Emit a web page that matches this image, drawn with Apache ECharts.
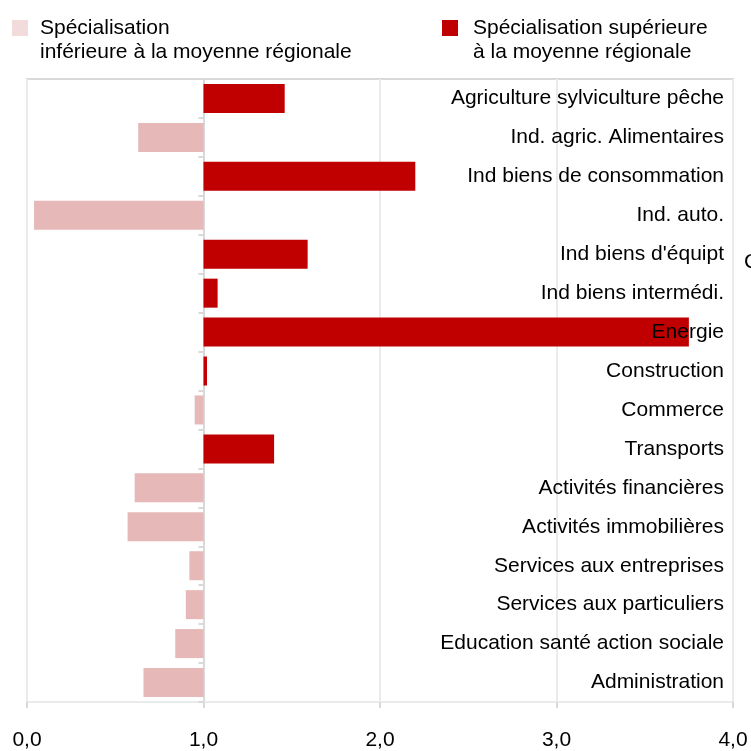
<!DOCTYPE html>
<html>
<head>
<meta charset="utf-8">
<script src="https://cdn.jsdelivr.net/npm/echarts@6/dist/echarts.min.js"></script>
<style>
  html, body { margin: 0; padding: 0; background: #fff; }
  #chart { width: 751px; height: 751px; }
</style>
</head>
<body>
<div id="chart"></div>
<script>
// secteurs, de haut en bas
const categories = [
  'Agriculture sylviculture pêche',
  'Ind. agric. Alimentaires',
  'Ind biens de consommation',
  'Ind. auto.',
  "Ind biens d'équipt",
  'Ind biens intermédi.',
  'Energie',
  'Construction',
  'Commerce',
  'Transports',
  'Activités financières',
  'Activités immobilières',
  'Services aux entreprises',
  'Services aux particuliers',
  'Education santé action sociale',
  'Administration'
]
// indice de spécialisation (1 = moyenne régionale)
const values = [1.46, 0.63, 2.20, 0.04, 1.59, 1.08, 3.75, 1.02, 0.95, 1.40, 0.61, 0.57, 0.92, 0.90, 0.84, 0.66]
const xTicks = ['0,0', '1,0', '2,0', '3,0', '4,0']
const seriesNames = [
  'Spécialisation inférieure à la moyenne régionale',
  'Spécialisation supérieure à la moyenne régionale'
]
// ligne vide en tête : la première ligne se cale sur le carré
const legendLines = {
  [seriesNames[0]]: ' \nSpécialisation\ninférieure à la moyenne régionale',
  [seriesNames[1]]: ' \nSpécialisation supérieure\nà la moyenne régionale'
}

const baseline = 1
const baseData = values.map(v => Math.min(v, baseline))
const lowData = values.map(v => (v < baseline ? +(baseline - v).toFixed(2) : 0))
const highData = values.map(v => (v >= baseline ? +(v - baseline).toFixed(2) : 0))

const font = 'Liberation Sans, Arial, sans-serif'
const red = '#c00000'
const pink = '#e6b8b7'

function legendText(padLeft) {
  return {
    fontFamily: font,
    fontSize: 21,
    lineHeight: 24,
    color: '#000',
    padding: [0, 0, 0, padLeft]
  }
}

let myChart = echarts.init(document.getElementById('chart'))
myChart.setOption({
  animation: false,
  legend: [
    {
      data: [{ name: seriesNames[0], itemStyle: { color: '#f2dcdb' } }],
      left: 12,
      top: -8,
      padding: 0,
      itemWidth: 16,
      itemHeight: 16,
      icon: 'rect',
      selectedMode: false,
      formatter: name => legendLines[name],
      textStyle: legendText(7)
    },
    {
      data: [{ name: seriesNames[1], itemStyle: { color: red } }],
      left: 442,
      top: -8,
      padding: 0,
      itemWidth: 16,
      itemHeight: 16,
      icon: 'rect',
      selectedMode: false,
      formatter: name => legendLines[name],
      textStyle: legendText(10)
    }
  ],
  grid: {
    left: 27,
    right: 18,
    top: 79,
    bottom: 46,
    show: true,
    borderColor: '#d9d9d9',
    borderWidth: 2
  },
  xAxis: {
    type: 'value',
    min: 0,
    max: 4,
    interval: 1,
    axisLine: { show: true, lineStyle: { color: '#ebebeb', width: 2 } },
    axisTick: { show: true, length: 6, lineStyle: { color: '#d9d9d9', width: 2 } },
    splitLine: { show: true, lineStyle: { color: '#ebebeb', width: 2 } },
    axisLabel: {
      margin: 28,
      fontFamily: font,
      fontSize: 21,
      color: '#000',
      formatter: v => xTicks[v]
    }
  },
  yAxis: [
    {
      // axe des catégories posé sur la valeur 1
      type: 'category',
      data: categories,
      inverse: true,
      position: 'left',
      offset: -176.5,
      axisLine: { show: true, lineStyle: { color: '#d9d9d9', width: 2 } },
      axisTick: { show: true, length: 5, lineStyle: { color: '#d9d9d9', width: 2 } },
      axisLabel: { show: false },
      splitLine: { show: false }
    },
    {
      type: 'category',
      data: categories,
      inverse: true,
      position: 'right',
      z: 5,
      axisLine: { show: false },
      axisTick: { show: false },
      splitLine: { show: false },
      axisLabel: {
        inside: true,
        margin: 9,
        fontFamily: font,
        fontSize: 21,
        color: '#000'
      }
    }
  ],
  series: [
    {
      name: 'base',
      type: 'bar',
      stack: 'a',
      barWidth: 29,
      silent: true,
      itemStyle: { color: 'rgba(0,0,0,0)' },
      data: baseData
    },
    {
      name: seriesNames[0],
      type: 'bar',
      stack: 'a',
      barWidth: 29,
      itemStyle: { color: pink },
      data: lowData
    },
    {
      name: seriesNames[1],
      type: 'bar',
      stack: 'a',
      barWidth: 29,
      itemStyle: { color: red },
      data: highData
    }
  ],
  graphic: [
    {
      type: 'text',
      left: 744,
      top: 252,
      style: {
        text: 'Coefficient',
        fontFamily: font,
        fontSize: 21,
        fill: '#000'
      }
    }
  ]
})
</script>
</body>
</html>
